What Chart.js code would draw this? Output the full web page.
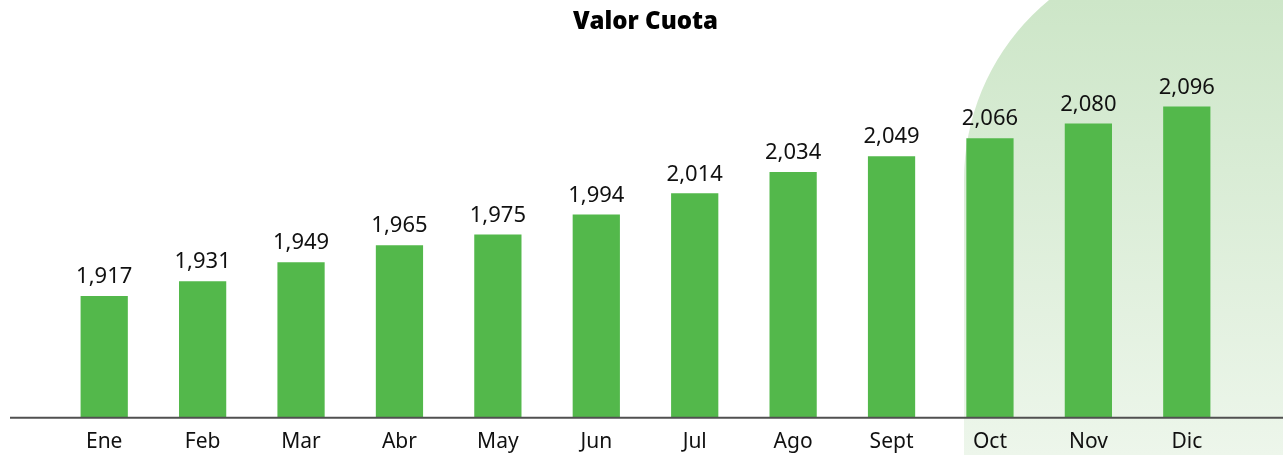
<!DOCTYPE html>
<html>
<head>
<meta charset="utf-8">
<script src="https://cdn.jsdelivr.net/npm/chart.js@4.4.0/dist/chart.umd.min.js"></script>
<style>
    html, body { margin: 0; padding: 0; background: #ffffff; }
    #wrap { width: 1283px; height: 455px; position: relative; }
</style>
</head>
<body>
<div id="wrap"><canvas id="cuotaChart"></canvas></div>
<script>
const meses = ['Ene', 'Feb', 'Mar', 'Abr', 'May', 'Jun', 'Jul', 'Ago', 'Sept', 'Oct', 'Nov', 'Dic'];
const valorCuota = [1917, 1931, 1949, 1965, 1975, 1994, 2014, 2034, 2049, 2066, 2080, 2096];
const tituloGrafico = 'Valor Cuota';

const verde = '#53b84b';

// fondo decorativo verde a la derecha
const fondoPlugin = {
    id: 'fondo',
    beforeDraw(chart) {
        const ctx = chart.ctx;
        const w = chart.width, h = chart.height;
        const cx = 1197, cy = 180, r = 233;
        ctx.save();
        const grad = ctx.createLinearGradient(0, 0, 0, h);
        grad.addColorStop(0, 'rgb(205,230,200)');
        grad.addColorStop(1, 'rgb(237,246,235)');
        ctx.fillStyle = grad;
        ctx.beginPath();
        ctx.moveTo(cx - r, h);
        ctx.lineTo(cx - r, cy);
        ctx.arc(cx, cy, r, Math.PI, Math.PI * 1.5 + 0.8, false);
        ctx.lineTo(w, 0);
        ctx.lineTo(w, h);
        ctx.closePath();
        ctx.fill();
        ctx.restore();
    }
};

// linea base y etiquetas de valor
const etiquetasPlugin = {
    id: 'etiquetas',
    afterDatasetsDraw(chart) {
        const ctx = chart.ctx;
        const yBase = chart.chartArea.bottom;
        ctx.save();
        ctx.strokeStyle = '#505050';
        ctx.lineWidth = 2;
        ctx.beginPath();
        ctx.moveTo(10, yBase);
        ctx.lineTo(chart.width, yBase);
        ctx.stroke();

        ctx.fillStyle = '#111111';
        ctx.font = '22px "Noto Sans"';
        ctx.textAlign = 'center';
        ctx.textBaseline = 'bottom';
        chart.getDatasetMeta(0).data.forEach((bar, i) => {
            ctx.fillText(valorCuota[i].toLocaleString('en-US'), bar.x, bar.y - 8);
        });
        ctx.restore();
    }
};

const ctx = document.getElementById('cuotaChart');
new Chart(ctx, {
    type: 'bar',
    data: {
        labels: meses,
        datasets: [{
            label: tituloGrafico,
            data: valorCuota,
            backgroundColor: verde,
            borderWidth: 0,
            barPercentage: 0.48,
            categoryPercentage: 1
        }]
    },
    options: {
        responsive: true,
        maintainAspectRatio: false,
        animation: false,
        layout: {
            padding: { left: 55, right: 47, top: 0, bottom: -4 }
        },
        plugins: {
            legend: { display: false },
            tooltip: { enabled: false },
            title: {
                display: true,
                text: tituloGrafico,
                color: '#000000',
                font: { family: '"Open Sans"', size: 24, weight: '800' },
                padding: { top: 8, bottom: 22 }
            }
        },
        scales: {
            y: {
                display: false,
                min: 1802,
                max: 2141
            },
            x: {
                grid: { display: false },
                border: { display: false },
                ticks: {
                    color: '#111111',
                    padding: 4,
                    font: { family: '"Noto Sans"', size: 21 }
                }
            }
        }
    },
    plugins: [fondoPlugin, etiquetasPlugin]
});
</script>
</body>
</html>
